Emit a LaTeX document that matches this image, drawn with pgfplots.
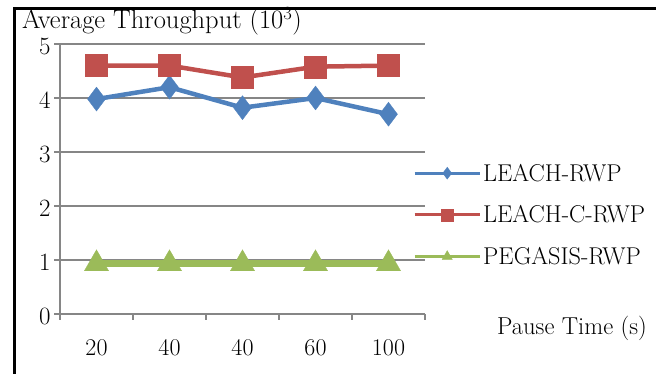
\documentclass[border=0pt]{standalone}
\usepackage{pgfplots}
\pgfplotsset{compat=1.18}
\newcommand\tnr{\rmfamily}
\definecolor{sblue}{HTML}{4F81BD}
\definecolor{sred}{HTML}{C0504D}
\definecolor{sgreen}{HTML}{9BBB59}
\definecolor{gridc}{HTML}{868686}
\begin{document}
\begin{tikzpicture}[x=1pt,y=1pt]
\path[use as bounding box] (0,0) rectangle (656,374);
\draw[line width=3.5pt] (14.5,0) -- (14.5,365.5) -- (656,365.5);
\begin{axis}[at={(60pt,60pt)}, anchor=south west, scale only axis,
  width=365pt, height=270pt,
  xmin=0, xmax=5, ymin=0, ymax=5,
  axis x line*=bottom, axis y line*=left,
  axis line style={gridc, line width=1.2pt, -},
  ytick={0,1,2,3,4,5}, ymajorgrids,
  grid style={gridc, line width=1.2pt},
  xtick={0,1,2,3,4,5}, xticklabels={},
  extra x ticks={0.5,1.5,2.5,3.5,4.5},
  extra x tick labels={20,40,40,60,100},
  extra x tick style={major tick length=0pt, grid=none},
  tick align=outside, major tick length=6pt,
  tick style={gridc, line width=1.2pt},
  ticklabel style={font=\tnr\fontsize{24}{28}\selectfont},
  yticklabel style={yshift=-2pt},
  xticklabel style={yshift=-22pt},
  clip=false,
  legend style={at={(0.959,0.367)}, anchor=west, draw=none, fill=none,
    row sep=19pt, font=\tnr\fontsize{24.3}{28}\selectfont,
    nodes={inner sep=2pt}},
  legend cell align=left,
  legend image code/.code={%
    \draw[#1, mark=none, line width=3pt] (0pt,0pt) -- (65pt,0pt);
    \draw[#1, mark size=6pt, mark options={line width=0.3pt}] plot coordinates {(32.5pt,0pt)};},
]
\addplot[sblue, line width=4.5pt, mark=diamond*, mark size=12pt, mark options={line width=0.3pt}]
  coordinates {(0.5,3.98) (1.5,4.2) (2.5,3.82) (3.5,4.0) (4.5,3.7)};
\addlegendentry{LEACH-RWP}
\addplot[sred, line width=4.5pt, mark=square*, mark size=11pt, mark options={line width=0.3pt}]
  coordinates {(0.5,4.6) (1.5,4.6) (2.5,4.38) (3.5,4.58) (4.5,4.6)};
\addlegendentry{LEACH-C-RWP}
\addplot[sgreen, line width=7pt, mark=triangle*, mark size=14pt, mark options={line width=0.3pt}]
  coordinates {(0.5,0.93) (1.5,0.93) (2.5,0.93) (3.5,0.93) (4.5,0.93)};
\addlegendentry{PEGASIS-RWP}
\end{axis}
\node[anchor=base west, inner sep=0pt, font=\tnr\fontsize{26.5}{30}\selectfont] at (22,345) {Average Throughput (10\textsuperscript{3})};
\node[anchor=west, inner sep=0pt, font=\tnr\fontsize{24.5}{28}\selectfont] at (497,46) {Pause Time (s)};
\end{tikzpicture}
\end{document}
